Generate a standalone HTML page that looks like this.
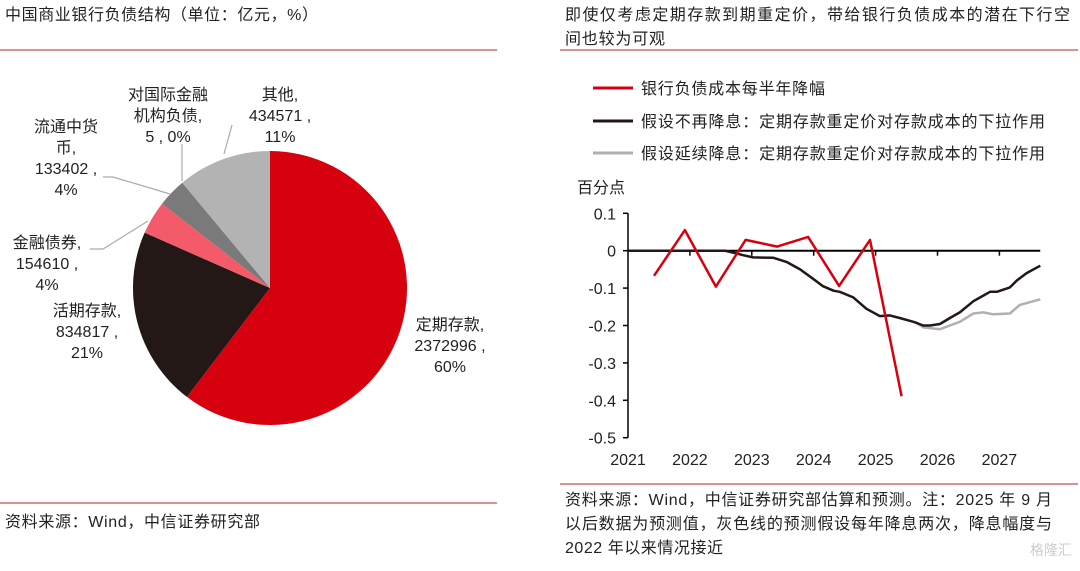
<!DOCTYPE html>
<html><head><meta charset="utf-8">
<style>
html,body{margin:0;padding:0;background:#fff;}
svg{display:block;font-family:"Liberation Sans","Noto Sans CJK SC",sans-serif;}
</style></head>
<body>
<svg id="root" width="1080" height="571" viewBox="0 0 1080 571" xmlns="http://www.w3.org/2000/svg">
  <g>
    <text x="5" y="20" font-size="16" fill="#222" textLength="313" lengthAdjust="spacing">中国商业银行负债结构（单位：亿元，%）</text>
    <line x1="0" y1="50" x2="497" y2="50" stroke="#c0504d" stroke-width="1.2"/>
    <g id="pie"></g>
    <line x1="0" y1="503" x2="497" y2="503" stroke="#c0504d" stroke-width="1.2"/>
    <text x="5" y="527" font-size="16" fill="#222" textLength="255" lengthAdjust="spacing">资料来源：Wind，中信证券研究部</text>
  </g>
  <g>
    <text x="565" y="20" font-size="16" fill="#222" textLength="505" lengthAdjust="spacing">即使仅考虑定期存款到期重定价，带给银行负债成本的潜在下行空</text>
    <text x="565" y="44" font-size="16" fill="#222" textLength="100" lengthAdjust="spacing">间也较为可观</text>
    <line x1="560" y1="50" x2="1078" y2="50" stroke="#c0504d" stroke-width="1.2"/>
    <g>
      <g>
        <line x1="593" y1="88" x2="633" y2="88" stroke="#d7000f" stroke-width="3"/>
        <text x="641" y="94" font-size="16" fill="#222" textLength="184" lengthAdjust="spacing">银行负债成本每半年降幅</text>
      </g>
      <g>
        <line x1="593" y1="121" x2="633" y2="121" stroke="#231815" stroke-width="3"/>
        <text x="641" y="127" font-size="16" fill="#222" textLength="404" lengthAdjust="spacing">假设不再降息：定期存款重定价对存款成本的下拉作用</text>
      </g>
      <g>
        <line x1="593" y1="153" x2="633" y2="153" stroke="#b0b0b0" stroke-width="3"/>
        <text x="641" y="159" font-size="16" fill="#222" textLength="404" lengthAdjust="spacing">假设延续降息：定期存款重定价对存款成本的下拉作用</text>
      </g>
    </g>
    <text x="577" y="193" font-size="16" fill="#222">百分点</text>
    <g id="line"></g>
    <line x1="560" y1="484" x2="1078" y2="484" stroke="#c0504d" stroke-width="1.2"/>
    <text x="565" y="505" font-size="16" fill="#222" textLength="487" lengthAdjust="spacing">资料来源：Wind，中信证券研究部估算和预测。注：2025 年 9 月</text>
    <text x="565" y="529" font-size="16" fill="#222" textLength="487" lengthAdjust="spacing">以后数据为预测值，灰色线的预测假设每年降息两次，降息幅度与</text>
    <text x="565" y="553" font-size="16" fill="#222" textLength="158" lengthAdjust="spacing">2022 年以来情况接近</text>
    <text x="1030" y="555" font-size="14" fill="#ccc">格隆汇</text>
  </g>
</svg>
<script>
const NS="http://www.w3.org/2000/svg";
// ---- pie data ----
const pieCategories=["定期存款","活期存款","金融债券","流通中货币","对国际金融机构负债","其他"];
const pieValues=[2372996,834817,154610,133402,5,434571];
const piePercents=["60%","21%","4%","4%","0%","11%"];
const pieColors=["#d7000f","#231815","#f35b6b","#7a7a7a","#555","#b3b3b3"];
// ---- line data ----
const yTicks=[0.1,0,-0.1,-0.2,-0.3,-0.4,-0.5];
const yTickLabels=["0.1","0","-0.1","-0.2","-0.3","-0.4","-0.5"];
const xTicks=[2021,2022,2023,2024,2025,2026,2027];
const redX=[2021.42,2021.92,2022.42,2022.9,2023.41,2023.91,2024.41,2024.91,2025.42];
const redY=[-0.067,0.055,-0.096,0.029,0.011,0.037,-0.094,0.029,-0.389];
const blackX=[2021,2022.56,2022.70,2022.86,2023.02,2023.35,2023.56,2023.78,2023.99,2024.15,2024.32,2024.42,2024.64,2024.85,2025.07,2025.23,2025.39,2025.61,2025.77,2025.88,2026.04,2026.20,2026.36,2026.58,2026.74,2026.85,2026.96,2027.17,2027.28,2027.44,2027.66];
const blackY=[0,0,-0.005,-0.012,-0.018,-0.019,-0.03,-0.05,-0.075,-0.095,-0.107,-0.11,-0.125,-0.155,-0.175,-0.173,-0.18,-0.19,-0.2,-0.2,-0.196,-0.18,-0.165,-0.135,-0.12,-0.11,-0.11,-0.098,-0.08,-0.06,-0.04];
const grayX=[2025.64,2025.77,2026.04,2026.20,2026.36,2026.58,2026.74,2026.90,2027.17,2027.33,2027.66];
const grayY=[-0.19,-0.205,-0.21,-0.2,-0.19,-0.168,-0.165,-0.17,-0.168,-0.145,-0.13];

function mk(tag,attrs,parent){const e=document.createElementNS(NS,tag);for(const k in attrs)e.setAttribute(k,attrs[k]);parent.appendChild(e);return e;}

// ---- pie ----
(function(){
  const g=document.getElementById('pie');
  const cx=270,cy=288,r=137;
  const total=pieValues.reduce((a,b)=>a+b,0);
  let a0=0;
  pieValues.forEach((v,i)=>{
    const a1=a0+v/total*2*Math.PI;
    const p=(a)=>[cx+r*Math.sin(a),cy-r*Math.cos(a)];
    const [x0,y0]=p(a0),[x1,y1]=p(a1);
    const large=(a1-a0)>Math.PI?1:0;
    const path=mk('path',{d:`M${cx},${cy} L${x0},${y0} A${r},${r} 0 ${large} 1 ${x1},${y1} Z`,fill:pieColors[i]},g);
    
    
    a0=a1;
  });
  const labels=[
    {lines:[pieCategories[0]+",",pieValues[0]+" ,",piePercents[0]],x:450,y:330},
    {lines:[pieCategories[1]+",",pieValues[1]+" ,",piePercents[1]],x:87,y:316},
    {lines:[pieCategories[2]+",",pieValues[2]+" ,",piePercents[2]],x:47,y:248},
    {lines:["流通中货","币,",pieValues[3]+" ,",piePercents[3]],x:66,y:132},
    {lines:["对国际金融","机构负债,",pieValues[4]+" , "+piePercents[4]],x:168,y:100},
    {lines:["其他,",pieValues[5]+" ,",piePercents[5]],x:280,y:100}
  ];
  labels.forEach((L,i)=>{
    const t=mk('text',{x:L.x,y:L.y,'font-size':16,fill:'#222','text-anchor':'middle'},g);
    
    
    L.lines.forEach((s,j)=>{const ts=mk('tspan',{x:L.x,dy:j?21:0},t);ts.textContent=s;});
  });
  const leaders=[
    [[90,249],[103,249],[148,221]],
    [[103,177],[113,177],[170,194]],
    [[182,144],[182,181]],
    [[232,125],[224,154]]
  ];
  leaders.forEach((pts,i)=>{
    const pl=mk('polyline',{points:pts.map(p=>p.join(',')).join(' '),fill:'none',stroke:'#aaa','stroke-width':1.2},g);
    
    
  });
})();

// ---- line chart ----
(function(){
  const g=document.getElementById('line');
  const x0=628,pxYear=61.9;
  const yZero=250.7,pxUnit=374;
  const X=v=>x0+(v-2021)*pxYear;
  const Y=v=>yZero-v*pxUnit;
  const yAxis=mk('line',{x1:x0,y1:Y(0.1),x2:x0,y2:Y(-0.5),stroke:'#000','stroke-width':1.5},g);
  
  
  yTicks.forEach((v,i)=>{
    mk('line',{x1:x0-5,y1:Y(v),x2:x0,y2:Y(v),stroke:'#000','stroke-width':1.5},g);
    const t=mk('text',{x:x0-12,y:Y(v)+6,'font-size':16,fill:'#222','text-anchor':'end'},g);
    
    
    t.textContent=yTickLabels[i];
  });
  const xAxis=mk('line',{x1:x0,y1:Y(0),x2:X(2027.66),y2:Y(0),stroke:'#000','stroke-width':2},g);
  
  
  xTicks.forEach(v=>{
    if(v>2021) mk('line',{x1:X(v),y1:Y(0),x2:X(v),y2:Y(0)+5,stroke:'#000','stroke-width':1.5},g);
    const t=mk('text',{x:X(v),y:465,'font-size':16,fill:'#222','text-anchor':'middle'},g);
    
    
    t.textContent=v;
  });
  function series(xs,ys,color,w,name){
    const pts=xs.map((x,i)=>X(x).toFixed(1)+','+Y(ys[i]).toFixed(1)).join(' ');
    const pl=mk('polyline',{points:pts,fill:'none',stroke:color,'stroke-width':w,'stroke-linejoin':'round'},g);
    
    
  }
  series(grayX,grayY,'#b0b0b0',2.5,'series-gray-line');
  series(blackX,blackY,'#231815',2.5,'series-black-line');
  series(redX,redY,'#d7000f',2.5,'series-red-line');
})();
</script>
</body></html>
